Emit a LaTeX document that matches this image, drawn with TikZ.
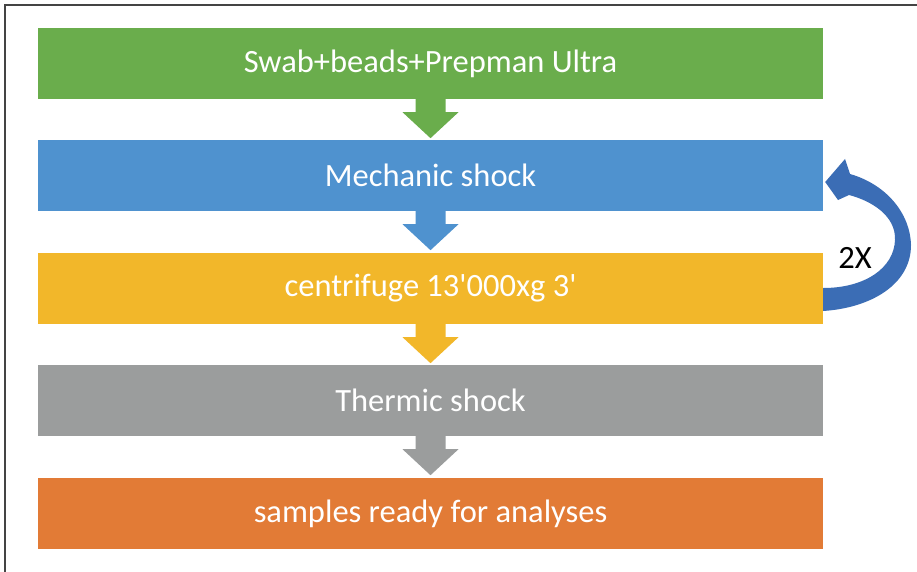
\documentclass[tikz,border=0pt]{standalone}
\usepackage{fontspec}
\setmainfont{Carlito}
\usetikzlibrary{calc}
\definecolor{cgreen}{HTML}{6AAD4C}
\definecolor{cblue}{HTML}{4F92CF}
\definecolor{cgold}{HTML}{F2B72A}
\definecolor{cgray}{HTML}{9B9D9D}
\definecolor{corange}{HTML}{E27B36}
\definecolor{cloop}{HTML}{3B6DB5}
\definecolor{cframe}{HTML}{444444}
\tikzset{
  stepbox/.style={rectangle, minimum width=785pt, minimum height=71pt, inner sep=0pt,
    text=white, font=\fontsize{32.5}{36}\selectfont},
}
\newcommand{\blockarr}[2]{%
  \fill[#2] ($(#1.south)+(-15,0)$) -- ($(#1.south)+(15,0)$) -- ($(#1.south)+(15,13)$)
    -- ($(#1.south)+(28,13)$) -- ($(#1.south)+(0,39)$) -- ($(#1.south)+(-28,13)$)
    -- ($(#1.south)+(-15,13)$) -- cycle;}
\begin{document}
\begin{tikzpicture}[x=1pt,y=-1pt]
\useasboundingbox (0,0) rectangle (917,572);
\fill[white] (0,0) rectangle (917,572);
\draw[cframe, line width=1.5pt] (5,572) -- (5,5) -- (917,5);
\node[stepbox, fill=cgreen] (b1) at (430.5,63.5) {Swab+beads+Prepman Ultra};
\node[stepbox, fill=cblue] (b2) at (430.5,175.5) {Mechanic shock};
\node[stepbox, fill=cgold] (b3) at (430.5,288.5) {centrifuge 13\textquotesingle000xg 3\textquotesingle};
\node[stepbox, fill=cgray] (b4) at (430.5,400.5) {Thermic shock};
\node[stepbox, fill=corange] (b5) at (430.5,513.5) {samples ready for analyses};
\blockarr{b1}{cgreen}
\blockarr{b2}{cblue}
\blockarr{b3}{cgold}
\blockarr{b4}{cgray}
\coordinate (tailb) at ($(b3.east)+(0,22.5)$);
\coordinate (tailt) at ($(b3.east)+(0,-0.5)$);
\coordinate (tip) at ($(b2.east)+(2,6.5)$);
\fill[cloop] (tailb)
  .. controls (870,308) and (911,285) .. (911,245)
  .. controls (910,212) and (885,184) .. (850,174)
  -- (845,159) -- (tip) -- (838,200) -- (849,195)
  .. controls (872,201) and (896,216) .. (895,240)
  .. controls (894,268) and (865,288) .. (tailt) -- cycle;
\node[font=\fontsize{32.5}{36}\selectfont, text=black, inner sep=0pt] (rep) at (855,258) {2X};
\end{tikzpicture}
\end{document}
